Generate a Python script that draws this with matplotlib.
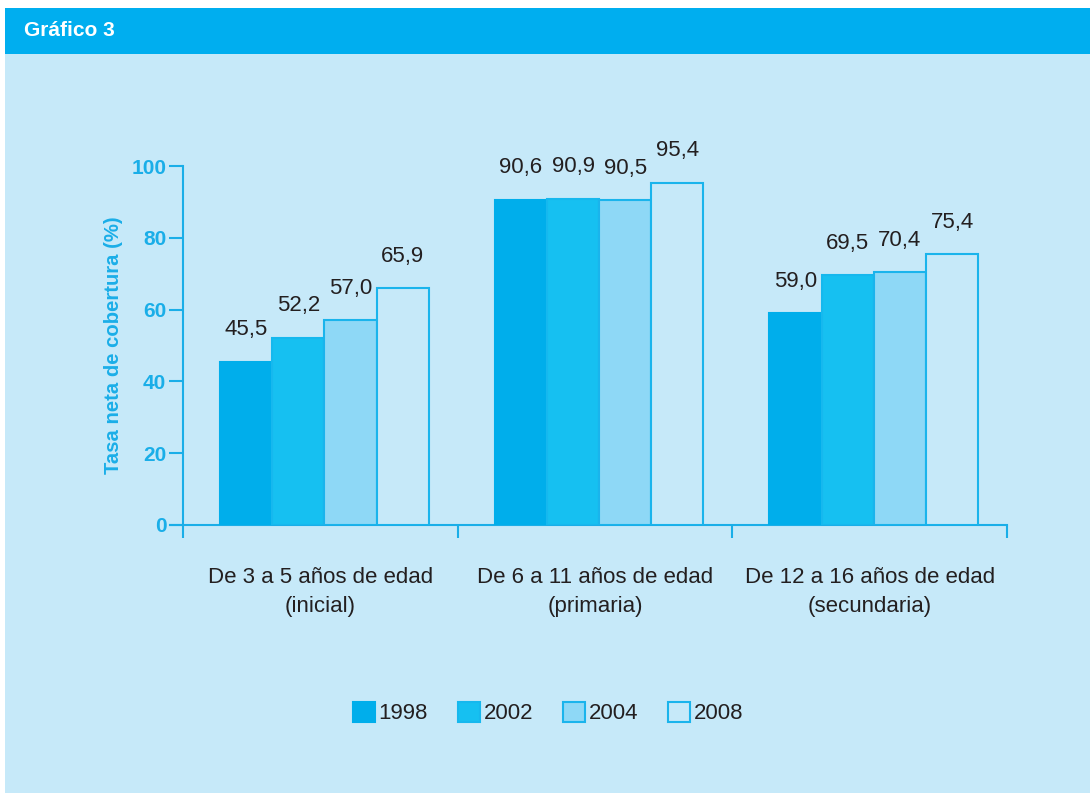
import numpy as np
import matplotlib.pyplot as plt
import matplotlib as mpl
from matplotlib.patches import Rectangle

mpl.rcParams['font.family'] = ['Liberation Sans Narrow', 'Liberation Sans', 'DejaVu Sans']

# data
categories = ['De 3 a 5 años de edad\n(inicial)',
              'De 6 a 11 años de edad\n(primaria)',
              'De 12 a 16 años de edad\n(secundaria)']
years = ['1998', '2002', '2004', '2008']
v1998 = [45.5, 90.6, 59.0]
v2002 = [52.2, 90.9, 69.5]
v2004 = [57.0, 90.5, 70.4]
v2008 = [65.9, 95.4, 75.4]
yticks = [0, 20, 40, 60, 80, 100]

series = [v1998, v2002, v2004, v2008]
fills = ['#00aeeb', '#16c0f1', '#8ed8f6', '#c6e9f9']
edges = ['#00aeeb', '#16b8ee', '#1ab4ec', '#1ab4ec']
blue = '#1aaee8'
dark = '#231f20'
panel = '#c6e9f9'
bold_fam = ['Liberation Sans', 'DejaVu Sans']

W, H = 1090, 793
fig = plt.figure(figsize=(W / 100, H / 100), dpi=100, facecolor='white')

# background panel + header band
fig.patches.append(Rectangle((5 / W, 0), 1 - 5 / W, 1 - 8 / H, transform=fig.transFigure,
                             facecolor=panel, edgecolor='none', zorder=-2))
fig.patches.append(Rectangle((5 / W, 1 - 54 / H), 1 - 5 / W, 46 / H, transform=fig.transFigure,
                             facecolor='#00aeef', edgecolor='none', zorder=-1))
fig.text(24 / W, 1 - 31 / H, 'Gráfico 3', color='white', fontsize=15, weight='bold',
         family=bold_fam, va='center', ha='left')

ax = fig.add_axes([170 / W, 1 - 525 / H, (1007 - 170) / W, (525 - 166) / H])
ax.set_facecolor('none')

x = np.arange(len(categories)) + 0.5
w = 0.19
for i, vals in enumerate(series):
    xs = x + 0.015 + (i - 1.5) * w
    ax.bar(xs, vals, width=w, color=fills[i], edgecolor=edges[i], linewidth=1.5,
           label=years[i], zorder=3)
    for xi, v in zip(xs, vals):
        ax.annotate(f'{v:.1f}'.replace('.', ','), (xi, v), xytext=(0, 23),
                    textcoords='offset points', ha='center', va='center',
                    fontsize=16, color=dark)

ax.set_xlim(-13 / 274.5, 3)
ax.set_ylim(0, 100)
for s in ['top', 'right']:
    ax.spines[s].set_visible(False)
ax.spines['left'].set_position(('data', 0))
ax.spines['left'].set_color(blue)
ax.spines['bottom'].set_color(blue)
ax.spines['left'].set_linewidth(1.5)
ax.spines['bottom'].set_linewidth(1.5)

ax.set_yticks(yticks)
ax.set_yticklabels([str(t) for t in yticks], color=blue, fontsize=15, weight='bold',
                   family=bold_fam)
ax.tick_params(axis='y', direction='out', length=10, width=1.5, color=blue, pad=2)

ax.set_xticks([0, 1, 2, 3])
ax.set_xticklabels([])
ax.tick_params(axis='x', direction='out', length=9, width=1.5, color=blue)
for xi, c in zip(x, categories):
    ax.text(xi, -11.8, c, ha='center', va='top', fontsize=16, color=dark,
            linespacing=1.45)

ax.set_ylabel('Tasa neta de cobertura (%)', color=blue, fontsize=14.6, weight='bold',
              family=bold_fam)
ax.yaxis.set_label_coords(-0.056, 0.5)

fig.legend(loc='center', bbox_to_anchor=(548 / W, 1 - 713 / H), ncol=4, frameon=False,
           fontsize=16, handlelength=1.0, handleheight=1.0, handletextpad=0.15,
           columnspacing=1.35, labelcolor=dark)

fig.savefig('out.png', dpi=100, facecolor='white')
